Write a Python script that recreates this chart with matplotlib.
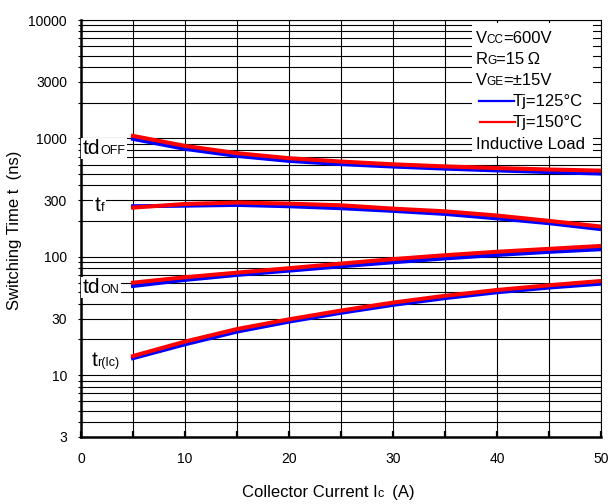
import matplotlib
matplotlib.use("Agg")
import matplotlib.pyplot as plt
from matplotlib.patches import Rectangle
from matplotlib.lines import Line2D
from matplotlib.transforms import IdentityTransform, Bbox

plt.rcParams['font.family'] = ['Liberation Sans', 'DejaVu Sans']

# collector current (A)
ic = [5, 10, 15, 20, 25, 30, 35, 40, 45, 50]

# switching times (ns), Tj=125C (blue) and Tj=150C (red)
td_off_125 = [990, 815, 711, 645, 606, 578, 555, 536, 519, 504]
td_off_150 = [1050, 864, 750, 680, 637, 604, 580, 561, 546, 534]
tf_125 = [267, 270, 274, 267, 257, 244, 230, 211, 192, 171]
tf_150 = [260, 279, 287, 281, 272, 255, 242, 223, 201, 180]
td_on_125 = [56.6, 63.7, 70.2, 76.3, 83.0, 89.8, 96.8, 103.5, 110.0, 115.7]
td_on_150 = [60.4, 67.1, 73.4, 80.0, 87.5, 95.5, 103.0, 110.2, 116.6, 123.4]
tr_125 = [13.9, 18.2, 23.3, 28.3, 33.6, 39.2, 44.7, 50.1, 54.9, 59.2]
tr_150 = [14.5, 19.2, 24.5, 29.6, 35.1, 41.0, 46.8, 52.4, 57.4, 62.4]

y_ticks = [3, 10, 30, 100, 300, 1000, 3000, 10000]
x_ticks = [0, 10, 20, 30, 40, 50]

fig = plt.figure(figsize=(6.13, 5.04), dpi=100)
ax = fig.add_axes([81 / 613, 67 / 504, 520 / 613, 417 / 504])

ax.set_yscale('log')
ax.set_xlim(0, 50)
ax.set_ylim(3, 10000)

ax.set_yticks(y_ticks, [str(v) for v in y_ticks])
grid_y = [m * 10 ** d for d in range(0, 4) for m in range(1, 10)]
ax.set_yticks([v for v in grid_y if 3 <= v <= 10000 and v not in y_ticks], minor=True)
ax.set_xticks(x_ticks, [str(v) for v in x_ticks])
ax.set_xticks([5, 15, 25, 35, 45], minor=True)

ax.grid(True, which='both', color='black', linewidth=0.8)
ax.set_axisbelow(True)

ax.tick_params(axis='y', which='both', direction='inout', length=4, width=0.8,
               labelsize=10, pad=8)
ax.tick_params(axis='x', which='both', direction='in', length=4, width=1.6,
               labelsize=10, pad=11)

for side in ['left', 'bottom']:
    ax.spines[side].set_linewidth(1.8)
for side in ['top', 'right']:
    ax.spines[side].set_linewidth(0.8)

for blue, red in [(td_off_125, td_off_150), (tf_125, tf_150),
                  (td_on_125, td_on_150), (tr_125, tr_150)]:
    ax.plot(ic, blue, color='#0000ff', linewidth=2.9, zorder=3)
    ax.plot(ic, red, color='#ff0000', linewidth=2.9, zorder=3)

renderer = fig.canvas.get_renderer()


def chain(x, y, parts, transform, white=False):
    # pieces of text side by side on one baseline, small ones look like subscripts
    xd, yd = transform.transform((x, y))
    boxes = []
    for s, size in parts:
        t = fig.text(xd, yd, s, fontsize=size, va='baseline', ha='left',
                     transform=IdentityTransform(), zorder=5)
        bb = t.get_window_extent(renderer)
        boxes.append(bb)
        xd = bb.x1 - 0.5
    if white:
        bb = Bbox.union(boxes)
        fig.patches.append(Rectangle((bb.x0 - 2, bb.y0 - 1), bb.width + 4, bb.height + 2,
                                     transform=IdentityTransform(), facecolor='white',
                                     edgecolor='none', zorder=4.5))


px = lambda v: (v - 81) / 520
py = lambda v: (437 - v) / 417

# curve labels
chain(px(83), py(154), [('td', 15), ('OFF', 9)], ax.transAxes, white=True)
chain(px(95), py(211), [('t', 15), ('f', 9)], ax.transAxes, white=True)
chain(px(83), py(293), [('td', 15), ('ON', 9)], ax.transAxes, white=True)
chain(px(92), py(366), [('t', 15), ('r(Ic)', 9)], ax.transAxes)

# condition box
ax.add_patch(Rectangle((px(472), py(156)), px(593) - px(472), py(23) - py(156),
                       transform=ax.transAxes, facecolor='white',
                       edgecolor='none', zorder=4))
chain(px(476), py(43), [('V', 12), ('CC', 8.5), ('=600V', 12)], ax.transAxes)
chain(px(476), py(64), [('R', 12), ('G', 8.5), ('=15\u2009Ω', 12)], ax.transAxes)
chain(px(476), py(85), [('V', 12), ('GE', 8.5), ('=±15V', 12)], ax.transAxes)
ax.add_line(Line2D([px(479), px(514)], [py(101), py(101)], transform=ax.transAxes,
                   color='#0000ff', linewidth=1.6, zorder=5))
ax.add_line(Line2D([px(480), px(515)], [py(122), py(122)], transform=ax.transAxes,
                   color='#ff0000', linewidth=1.6, zorder=5))
chain(px(513), py(106), [('Tj=125°C', 12)], ax.transAxes)
chain(px(513), py(127), [('Tj=150°C', 12)], ax.transAxes)
chain(px(476), py(149), [('Inductive Load', 12)], ax.transAxes)

# axis titles
fig.text(15 / 613, (504 - 230) / 504, 'Switching Time t  (ns)', rotation=90,
         fontsize=12, ha='center', va='center')
chain(242 / 613, 7 / 504, [('Collector Current I', 12), ('c', 9), ('  (A)', 12)],
      fig.transFigure)

fig.savefig('out.png', dpi=100)
